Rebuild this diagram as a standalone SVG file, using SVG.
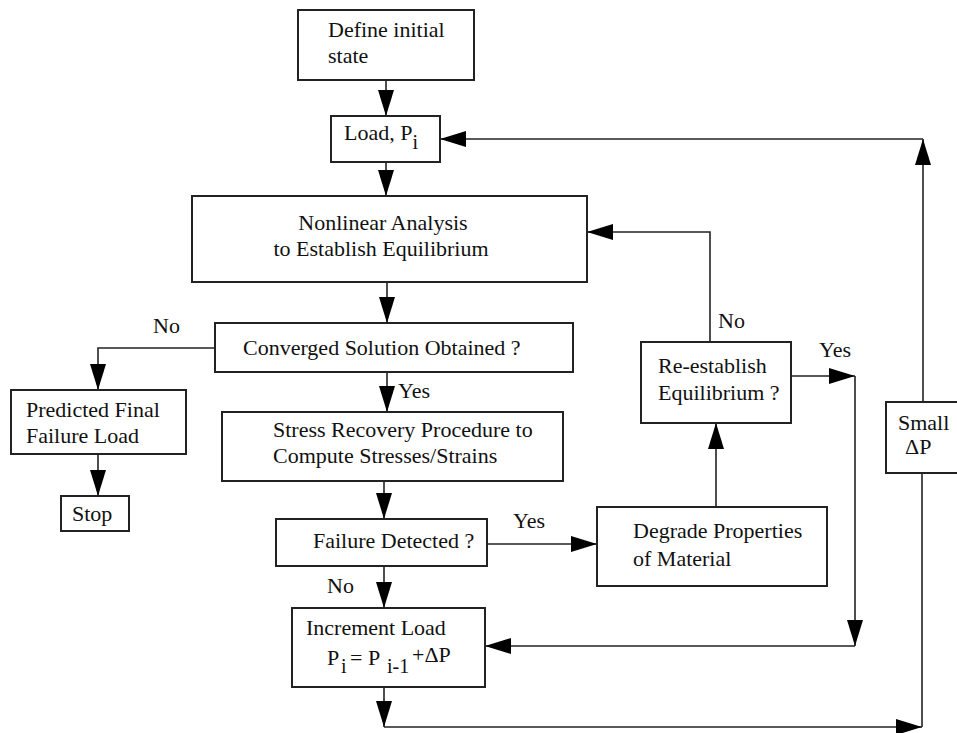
<svg xmlns="http://www.w3.org/2000/svg" width="957" height="733" viewBox="0 0 957 733">
<defs>
<marker id="ah" viewBox="0 0 26 16" markerWidth="26" markerHeight="16" refX="26" refY="8" orient="auto" markerUnits="userSpaceOnUse">
<path d="M0,0 L26,8 L0,16 z" fill="#000"/>
</marker>
<style>
.box{fill:#fff;stroke:#222;stroke-width:2}
.t{font-size:22px;fill:#111}
.sub{font-size:20px}
.c{fill:none;stroke:#222;stroke-width:1.6}
.a{marker-end:url(#ah)}
</style>
</defs>
<rect width="957" height="733" fill="#fff"/>
<g font-family="Liberation Serif, DejaVu Serif, serif">
<g id="connectors">
<path class="c a" d="M386,80 V116"/>
<path class="c a" d="M386,162 V196"/>
<path class="c a" d="M387,282 V323"/>
<path class="c a" d="M215,348 H98 V390"/>
<path class="c a" d="M98,454 V496"/>
<path class="c a" d="M387,372 V412"/>
<path class="c a" d="M384,481 V519"/>
<path class="c a" d="M487,544 H597"/>
<path class="c a" d="M384,566 V608"/>
<path class="c a" d="M716,507 V423"/>
<path class="c a" d="M710,342 V232 H587"/>
<path class="c a" d="M791,376 H855"/>
<path class="c a" d="M855,376 V646"/>
<path class="c a" d="M855,646 H485"/>
<path class="c a" d="M384,687 V727"/>
<path class="c a" d="M384,727 H922"/>
<path class="c" d="M922,727 V473"/>
<path class="c a" d="M923,402 V139"/>
<path class="c a" d="M923,139 H440"/>
<text class="t" x="153" y="333">No</text>
<text class="t" x="398" y="398">Yes</text>
<text class="t" x="513" y="528">Yes</text>
<text class="t" x="327" y="593">No</text>
<text class="t" x="718" y="328">No</text>
<text class="t" x="819" y="357">Yes</text>
</g>
<g id="define">
<rect class="box" x="298" y="10" width="176" height="70"/>
<text class="t" x="328" y="37">Define initial</text>
<text class="t" x="328" y="63">state</text>
</g>
<g id="load">
<rect class="box" x="331" y="116" width="109" height="46"/>
<text class="t" x="344" y="140">Load, P<tspan class="sub" dy="9">i</tspan></text>
</g>
<g id="nonlinear">
<rect class="box" x="192" y="196" width="395" height="86"/>
<text class="t" x="383" y="230" text-anchor="middle">Nonlinear Analysis</text>
<text class="t" x="381" y="256" text-anchor="middle">to Establish Equilibrium</text>
</g>
<g id="converged">
<rect class="box" x="215" y="323" width="358" height="49"/>
<text class="t" x="243" y="355">Converged Solution Obtained ?</text>
</g>
<g id="predicted">
<rect class="box" x="11" y="390" width="175" height="64"/>
<text class="t" x="26" y="417">Predicted Final</text>
<text class="t" x="26" y="443">Failure Load</text>
</g>
<g id="stop">
<rect class="box" x="61" y="496" width="68" height="35"/>
<text class="t" x="72" y="521">Stop</text>
</g>
<g id="stress">
<rect class="box" x="222" y="412" width="341" height="69"/>
<text class="t" x="273" y="437">Stress Recovery Procedure to</text>
<text class="t" x="273" y="463">Compute Stresses/Strains</text>
</g>
<g id="failure">
<rect class="box" x="276" y="519" width="211" height="47"/>
<text class="t" x="313" y="548">Failure Detected ?</text>
</g>
<g id="degrade">
<rect class="box" x="597" y="507" width="230" height="79"/>
<text class="t" x="633" y="538">Degrade Properties</text>
<text class="t" x="633" y="566">of Material</text>
</g>
<g id="reestablish">
<rect class="box" x="641" y="342" width="150" height="81"/>
<text class="t" x="658" y="373">Re-establish</text>
<text class="t" x="658" y="400">Equilibrium ?</text>
</g>
<g id="increment">
<rect class="box" x="292" y="608" width="193" height="79"/>
<text class="t" x="306" y="635">Increment Load</text>
<text class="t" x="327" y="665">P<tspan class="sub" x="341" y="673">i</tspan><tspan x="350" y="665">= P</tspan><tspan class="sub" x="387" y="673">i-1</tspan><tspan x="412" y="662">+ΔP</tspan></text>
</g>
<g id="small">
<rect class="box" x="886" y="402" width="75" height="71"/>
<text class="t" x="898" y="430">Small</text>
<text class="t" x="905" y="454">ΔP</text>
</g>
</g>
</svg>
